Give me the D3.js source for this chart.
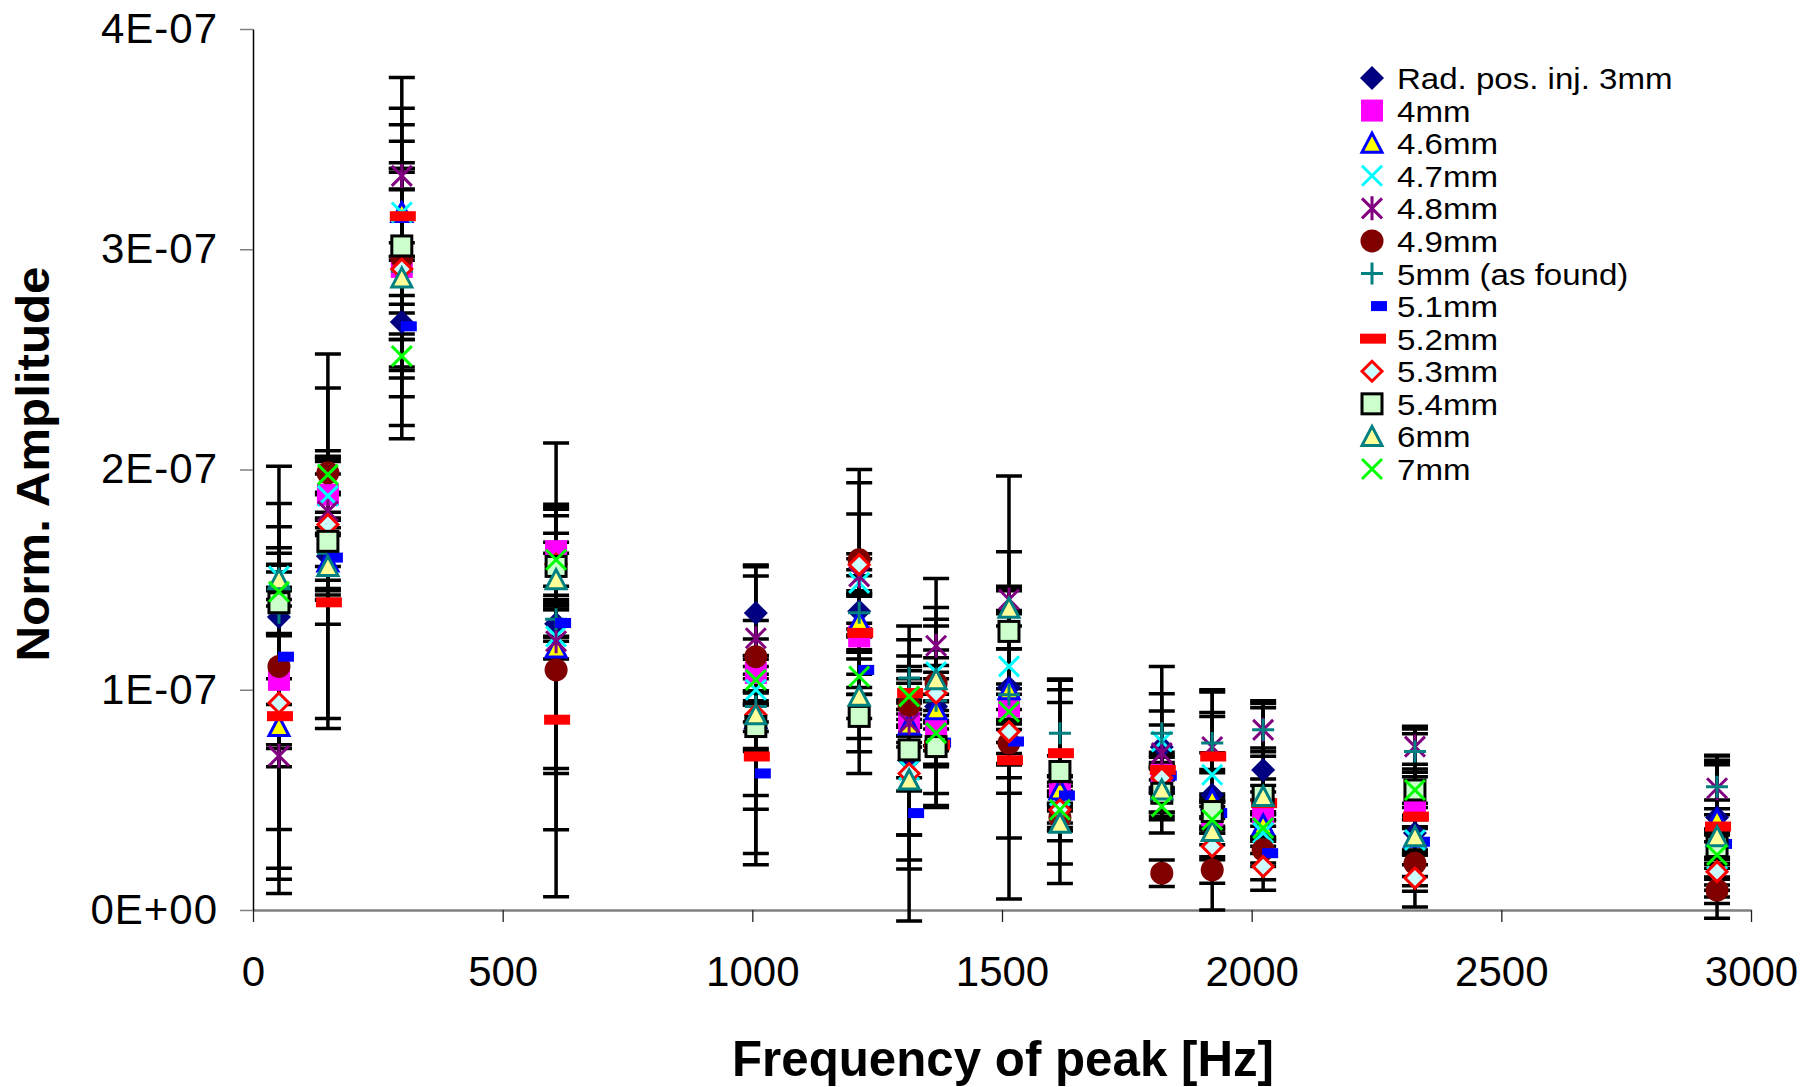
<!DOCTYPE html>
<html lang="en">
  <head>
    <meta charset="UTF-8" />
    <title>Norm. Amplitude vs Frequency of peak</title>
    <style>
      body { margin: 0; background: white; }
      svg { display: block; font-family: "Liberation Sans", Arial, sans-serif; }
    </style>
  </head>
  <body>
    <svg width="1804" height="1087"></svg>
    <script src="https://d3js.org/d3.v7.min.js"></script>
    <script>
      // peak frequencies [Hz]
      const freqs = [52, 150, 298, 607, 1007, 1214, 1314, 1368, 1514, 1616, 1820, 1921, 2023, 2327, 2932];

      // normalised amplitudes and their errors, in units of 1E-07
      const amp_3mm = [1.33, 1.606, 2.67, 1.30, 1.348, 1.356, 0.68, 0.924, 1.01, 0.53, 0.74, 0.523, 0.636, 0.35, 0.42];
      const err_3mm = [0.08, 0.20, 0.08, 0.08, 0.21, 0.08, 0.08, 0.45, 0.96, 0.08, 0.10, 0.10, 0.10, 0.08, 0.08];
      const amp_4mm = [1.045, 1.886, 2.92, 1.629, 1.076, 1.242, 0.85, 0.826, 0.924, 0.56, 0.614, 0.43, 0.44, 0.47, 0.288];
      const err_4mm = [0.97, 0.15, 0.72, 0.20, 0.08, 0.06, 0.06, 0.08, 0.08, 0.44, 0.08, 0.06, 0.06, 0.36, 0.06];
      const amp_46mm = [0.833, 1.58, 3.167, 1.19, 0.87, 1.31, 0.84, 0.909, 1.0, 0.545, 0.59, 0.50, 0.386, 0.33, 0.41];
      const err_46mm = [0.10, 0.12, 0.20, 0.05, 0.06, 0.69, 0.10, 0.38, 0.47, 0.06, 0.06, 0.50, 0.06, 0.08, 0.27];
      const amp_47mm = [1.515, 1.88, 3.167, 1.242, 1.0, 1.485, 0.636, 1.08, 1.106, 0.44, 0.765, 0.614, 0.35, 0.318, 0.15];
      const err_47mm = [0.05, 0.10, 0.20, 0.60, 0.05, 0.06, 0.45, 0.10, 0.08, 0.08, 0.34, 0.10, 0.06, 0.06, 0.06];
      const amp_48mm = [0.70, 1.81, 3.333, 1.22, 1.234, 1.515, 0.85, 1.20, 1.41, 0.62, 0.712, 0.74, 0.818, 0.742, 0.553];
      const err_48mm = [0.05, 0.25, 0.06, 0.60, 0.08, 0.08, 0.06, 0.12, 0.05, 0.08, 0.27, 0.25, 0.12, 0.08, 0.12];
      const amp_49mm = [1.106, 1.985, 2.96, 1.09, 1.15, 1.59, 0.93, 1.03, 0.758, 0.42, 0.167, 0.182, 0.273, 0.212, 0.09];
      const err_49mm = [0.74, 0.10, 0.82, 1.03, 0.08, 0.35, 0.10, 0.08, 0.10, 0.06, 0.06, 0.06, 0.06, 0.06, 0.06];
      const amp_5mm = [1.35, 1.62, 2.9, 1.32, 0.924, 1.35, 1.053, 0.95, 0.977, 0.803, 0.803, 0.758, 0.818, 0.72, 0.56];
      const err_5mm = [0.10, 0.75, 0.45, 0.08, 0.07, 0.10, 0.10, 0.10, 0.65, 0.24, 0.10, 0.12, 0.10, 0.08, 0.10];
      const amp_51mm = [1.15, 1.6, 2.65, 1.303, 0.62, 1.09, 0.44, 0.76, 0.765, 0.52, 0.61, 0.44, 0.258, 0.31, 0.30];
      const err_51mm = [0.10, 0.17, 0.06, 0.06, 0.10, 0.08, 0.10, 0.10, 0.10, 0.06, 0.06, 0.06, 0.06, 0.06, 0.06];
      const amp_52mm = [0.88, 1.397, 3.15, 0.864, 0.697, 1.258, 0.985, 0.75, 0.68, 0.712, 0.636, 0.697, 0.485, 0.424, 0.379];
      const err_52mm = [0.69, 0.10, 0.12, 0.50, 0.24, 0.54, 0.12, 0.10, 0.08, 0.23, 0.08, 0.20, 0.08, 0.41, 0.32];
      const amp_53mm = [0.94, 1.75, 2.91, 1.57, 0.886, 1.568, 0.62, 0.985, 0.81, 0.455, 0.60, 0.288, 0.197, 0.145, 0.174];
      const err_53mm = [0.80, 0.30, 0.58, 0.10, 0.68, 0.05, 0.67, 0.52, 0.10, 0.06, 0.06, 0.06, 0.06, 0.06, 0.06];
      const amp_54mm = [1.395, 1.674, 3.015, 1.56, 0.833, 0.879, 0.727, 0.742, 1.265, 0.629, 0.53, 0.447, 0.52, 0.545, 0.288];
      const err_54mm = [0.14, 0.85, 0.55, 0.15, 0.10, 0.10, 0.50, 0.08, 0.08, 0.42, 0.12, 0.08, 0.43, 0.08, 0.08];
      const amp_6mm = [1.50, 1.56, 2.87, 1.50, 0.886, 0.97, 0.59, 1.045, 1.37, 0.394, 0.545, 0.356, 0.515, 0.333, 0.333];
      const err_6mm = [0.12, 0.15, 0.08, 0.12, 0.63, 0.10, 0.25, 0.10, 0.08, 0.08, 0.10, 0.06, 0.08, 0.08, 0.37];
      const amp_7mm = [1.445, 1.977, 2.515, 1.59, 1.045, 1.06, 0.97, 0.803, 0.90, 0.455, 0.47, 0.41, 0.372, 0.545, 0.25];
      const err_7mm = [0.20, 0.08, 0.10, 0.20, 0.06, 0.08, 0.08, 0.08, 0.08, 0.08, 0.12, 0.06, 0.06, 0.06, 0.06];

      const seriesNames = ["Rad. pos. inj. 3mm", "4mm", "4.6mm", "4.7mm", "4.8mm", "4.9mm", "5mm (as found)",
        "5.1mm", "5.2mm", "5.3mm", "5.4mm", "6mm", "7mm"];
      const markerTypes = ["diamond", "square", "triangleBlue", "xCyan", "asterisk", "circle", "plus",
        "shortDash", "dash", "diamondOpen", "squareOpen", "triangleTeal", "xGreen"];

      const xTicks = [0, 500, 1000, 1500, 2000, 2500, 3000];
      const yTicks = [0, 1, 2, 3, 4];
      const yTickLabels = ["0E+00", "1E-07", "2E-07", "3E-07", "4E-07"];

      const amps = [amp_3mm, amp_4mm, amp_46mm, amp_47mm, amp_48mm, amp_49mm, amp_5mm,
        amp_51mm, amp_52mm, amp_53mm, amp_54mm, amp_6mm, amp_7mm];
      const errs = [err_3mm, err_4mm, err_46mm, err_47mm, err_48mm, err_49mm, err_5mm,
        err_51mm, err_52mm, err_53mm, err_54mm, err_6mm, err_7mm];

      const series = seriesNames.map((name, i) => ({
        name: name,
        marker: markerTypes[i],
        points: freqs.map((f, j) => ({ f: f, v: amps[i][j], e: errs[i][j] })),
      }));

      const svg = d3.select("svg");
      const font = '"Liberation Sans", Arial, sans-serif';

      const x = d3.scaleLinear().domain([0, 3000]).range([253, 1751]);
      const y = d3.scaleLinear().domain([0, 4]).range([910, 29]);

      // axes
      const xAxis = svg
        .append("g")
        .attr("transform", "translate(0,910)")
        .call(d3.axisBottom(x).tickValues(xTicks).tickSize(12).tickSizeOuter(0).tickPadding(34).tickFormat(d3.format("d")));
      xAxis.select(".domain").attr("stroke", "#808080").attr("stroke-width", 2.5);
      xAxis.selectAll(".tick line").attr("stroke", "#222").attr("stroke-width", 1.3);
      xAxis.selectAll("text").attr("font-size", 42).attr("font-family", font).attr("fill", "#000");

      const yAxis = svg
        .append("g")
        .attr("transform", "translate(253,0)")
        .call(d3.axisLeft(y).tickValues(yTicks).tickSize(13).tickSizeOuter(0).tickPadding(22).tickFormat((d, i) => yTickLabels[i]));
      yAxis.select(".domain").attr("stroke", "#000").attr("stroke-width", 1.5);
      yAxis.selectAll(".tick line").attr("stroke", "#808080").attr("stroke-width", 1.5);
      yAxis.selectAll("text").attr("font-size", 42).attr("font-family", font).attr("fill", "#000").attr("letter-spacing", 1);

      // titles
      svg.append("text")
        .attr("transform", "translate(49,464) rotate(-90)")
        .attr("text-anchor", "middle")
        .attr("font-size", 46)
        .attr("font-weight", "bold")
        .attr("textLength", 395)
        .attr("lengthAdjust", "spacingAndGlyphs")
        .text("Norm. Amplitude");

      svg.append("text")
        .attr("x", 1003)
        .attr("y", 1076)
        .attr("text-anchor", "middle")
        .attr("font-size", 50)
        .attr("font-weight", "bold")
        .attr("textLength", 542)
        .attr("lengthAdjust", "spacingAndGlyphs")
        .text("Frequency of peak [Hz]");

      // marker shapes drawn around (0,0)
      function drawMarker(g, type) {
        switch (type) {
          case "diamond":
            g.append("path").attr("d", "M0,-12L12,0L0,12L-12,0Z").attr("fill", "#000080");
            break;
          case "square":
            g.append("rect").attr("x", -11).attr("y", -11).attr("width", 22).attr("height", 22).attr("fill", "#ff00ff");
            break;
          case "triangleBlue":
            g.append("path").attr("d", "M0,-10L10,9L-10,9Z").attr("fill", "#ffff00").attr("stroke", "#0000ff").attr("stroke-width", 3);
            break;
          case "xCyan":
            g.append("path").attr("d", "M-10,-10L10,10M10,-10L-10,10").attr("stroke", "#00ffff").attr("stroke-width", 3);
            break;
          case "asterisk":
            g.append("path").attr("d", "M-10,-10L10,10M10,-10L-10,10M0,-12L0,12").attr("stroke", "#800080").attr("stroke-width", 3);
            break;
          case "circle":
            g.append("circle").attr("r", 11.5).attr("fill", "#800000");
            break;
          case "plus":
            g.append("path").attr("d", "M-11,0L11,0M0,-11L0,11").attr("stroke", "#008080").attr("stroke-width", 3);
            break;
          case "shortDash":
            g.append("rect").attr("x", -1).attr("y", -5).attr("width", 16).attr("height", 10).attr("fill", "#0000ff");
            break;
          case "dash":
            g.append("rect").attr("x", -12).attr("y", -5).attr("width", 26).attr("height", 10).attr("fill", "#ff0000");
            break;
          case "diamondOpen":
            g.append("path").attr("d", "M0,-10L10,0L0,10L-10,0Z").attr("fill", "#ccffff").attr("stroke", "#ff0000").attr("stroke-width", 3);
            break;
          case "squareOpen":
            g.append("rect").attr("x", -10).attr("y", -10).attr("width", 20).attr("height", 20).attr("fill", "#ccffcc").attr("stroke", "#000").attr("stroke-width", 3);
            break;
          case "triangleTeal":
            g.append("path").attr("d", "M0,-10L10,9L-10,9Z").attr("fill", "#ffff99").attr("stroke", "#008080").attr("stroke-width", 3);
            break;
          case "xGreen":
            g.append("path").attr("d", "M-10,-10L10,10M10,-10L-10,10").attr("stroke", "#00ff00").attr("stroke-width", 3);
            break;
        }
      }

      // error bars
      const allPoints = series.flatMap((s) => s.points);
      const bars = svg.append("g").attr("stroke", "#000").attr("stroke-width", 3.5);
      bars.selectAll("path")
        .data(allPoints)
        .join("path")
        .attr("fill", "none")
        .attr("d", (d) => {
          const cx = x(d.f), y0 = y(d.v - d.e), y1 = y(d.v + d.e);
          return `M${cx},${y0}L${cx},${y1}M${cx - 13},${y0}L${cx + 13},${y0}M${cx - 13},${y1}L${cx + 13},${y1}`;
        });

      // markers, series in order
      const markers = svg.append("g");
      series.forEach((s) => {
        markers.append("g")
          .selectAll("g")
          .data(s.points)
          .join("g")
          .attr("transform", (d) => `translate(${x(d.f)},${y(d.v)})`)
          .each(function () { drawMarker(d3.select(this), s.marker); });
      });

      // legend
      const legendRow = d3.scaleLinear().domain([0, seriesNames.length - 1]).range([78, 469]);
      const legend = svg.append("g");
      series.forEach((s, i) => {
        const row = legend.append("g").attr("transform", `translate(1372,${legendRow(i)})`);
        drawMarker(row, s.marker);
        row.append("text")
          .attr("transform", "translate(25,11) scale(1.14,1)")
          .attr("font-size", 29)
          .attr("font-family", font)
          .text(s.name);
      });
    </script>
  </body>
</html>
